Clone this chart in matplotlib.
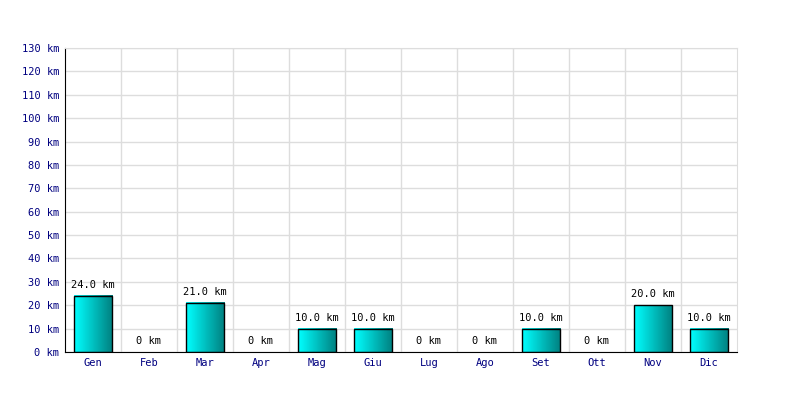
import numpy as np
import matplotlib.pyplot as plt
from matplotlib.colors import LinearSegmentedColormap

# monthly distances
months = ["Gen", "Feb", "Mar", "Apr", "Mag", "Giu", "Lug", "Ago", "Set", "Ott", "Nov", "Dic"]
km = [24.0, 0, 21.0, 0, 10.0, 10.0, 0, 0, 10.0, 0, 20.0, 10.0]
y_ticks = list(range(0, 140, 10))

plt.rcParams['font.family'] = ['DejaVu Sans Mono']

fig = plt.figure(figsize=(8, 4), dpi=100)
ax = fig.add_axes([0.08125, 0.12, 0.84, 0.76])

x = np.arange(len(months))
width = 0.68
cmap = LinearSegmentedColormap.from_list("cyan_teal", ["#00ffff", "#008080"])
grad = np.linspace(0, 1, 64).reshape(1, -1)

for xi, v in zip(x, km):
    if v > 0:
        ax.imshow(grad, cmap=cmap, aspect="auto", zorder=2,
                  extent=[xi - width / 2, xi + width / 2, 0, v])
        ax.add_patch(plt.Rectangle((xi - width / 2, 0), width, v, fill=False,
                                   edgecolor="black", linewidth=1, zorder=3))
        label = f"{v:.1f} km"
    else:
        label = "0 km"
    ax.text(xi, v + 2.5, label, ha="center", va="bottom", fontsize=7.5,
            color="black", zorder=4)

ax.set_xlim(-0.5, len(months) - 0.5)
ax.set_ylim(0, 130)
ax.set_xticks(x)
ax.set_xticklabels(months)
ax.set_yticks(y_ticks)
ax.set_yticklabels([f"{t} km" for t in y_ticks])
ax.set_xticks(np.arange(0.5, len(months) - 0.5, 1), minor=True)
ax.tick_params(axis="both", which="both", length=0, labelsize=7.5,
               labelcolor="#000080", pad=4)
ax.grid(True, axis="y", color="#dddddd", linewidth=1, zorder=0)
ax.grid(True, axis="x", which="minor", color="#dddddd", linewidth=1, zorder=0)
ax.set_axisbelow(True)

for side in ["top", "right"]:
    ax.spines[side].set_color("#dddddd")
ax.spines["left"].set_color("black")
ax.spines["bottom"].set_color("black")

fig.savefig("out.png", dpi=100)
